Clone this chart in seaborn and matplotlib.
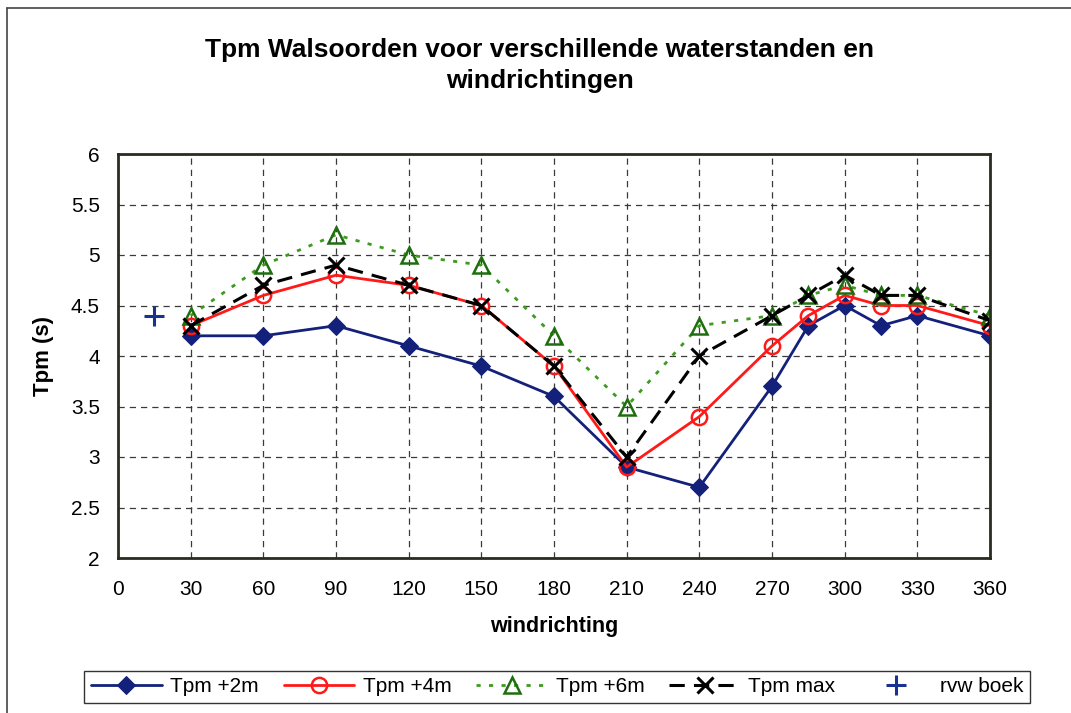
import numpy as np
import pandas as pd
import matplotlib
matplotlib.use("Agg")
import matplotlib.pyplot as plt
import seaborn as sns
from matplotlib.lines import Line2D

# data
windrichting = [30, 60, 90, 120, 150, 180, 210, 240, 270, 285, 300, 315, 330, 360]
tpm_2m = [4.2, 4.2, 4.3, 4.1, 3.9, 3.6, 2.9, 2.7, 3.7, 4.3, 4.5, 4.3, 4.4, 4.2]
tpm_4m = [4.3, 4.6, 4.8, 4.7, 4.5, 3.9, 2.9, 3.4, 4.1, 4.4, 4.6, 4.5, 4.5, 4.3]
tpm_6m = [4.4, 4.9, 5.2, 5.0, 4.9, 4.2, 3.5, 4.3, 4.4, 4.6, 4.7, 4.6, 4.6, 4.4]
tpm_max = [4.3, 4.7, 4.9, 4.7, 4.5, 3.9, 3.0, 4.0, 4.4, 4.6, 4.8, 4.6, 4.6, 4.35]
rvw_x = [15]
rvw_y = [4.4]

x_ticks = list(range(0, 361, 30))
y_ticks = [2, 2.5, 3, 3.5, 4, 4.5, 5, 5.5, 6]

sns.set_theme(style="white")
plt.rcParams['font.family'] = ['Liberation Sans', 'DejaVu Sans']
plt.rcParams['text.color'] = 'black'
plt.rcParams['axes.labelcolor'] = 'black'

df = pd.DataFrame({"windrichting": windrichting, "Tpm +2m": tpm_2m, "Tpm +4m": tpm_4m,
                   "Tpm +6m": tpm_6m, "Tpm max": tpm_max})
rvw = pd.DataFrame({"windrichting": rvw_x, "Tpm": rvw_y})

fig = plt.figure(figsize=(10.71, 7.13), dpi=100)
ax = fig.add_axes([118 / 1071, 1 - 558 / 713, (990 - 118) / 1071, (558 - 154) / 713])

navy = "#13217a"
red = "#ff1a1a"
green = "#1e6e10"
green_line = "#3f9b1e"

sns.lineplot(data=df, x="windrichting", y="Tpm +2m", ax=ax, color=navy, lw=2,
             marker="D", ms=9, mfc=navy, mec=navy, label="Tpm +2m")
sns.lineplot(data=df, x="windrichting", y="Tpm +4m", ax=ax, color=red, lw=2,
             marker="o", ms=11, mfc="none", mec=red, mew=1.8, label="Tpm +4m")
sns.lineplot(data=df, x="windrichting", y="Tpm +6m", ax=ax, color=green_line, lw=2,
             linestyle=(0, (1.5, 3)), marker="^", ms=11, mfc="none", mec=green, mew=1.8,
             label="Tpm +6m")
sns.lineplot(data=df, x="windrichting", y="Tpm max", ax=ax, color="black", lw=2.2,
             linestyle=(0, (5, 3)), marker="x", ms=12, mec="black", mew=2.2, label="Tpm max")
sns.scatterplot(data=rvw, x="windrichting", y="Tpm", ax=ax, color="#1a3190", marker="+",
                s=200, linewidth=2.2, label="rvw boek", zorder=5)

ax.set_xlim(0, 360)
ax.set_ylim(2, 6)
ax.set_xticks(x_ticks)
ax.set_yticks(y_ticks)
ax.set_yticklabels([f"{v:g}" for v in y_ticks])
ax.tick_params(axis="both", labelsize=15, colors="black", length=5, width=1, direction="out")
ax.tick_params(axis="x", pad=11)
ax.tick_params(axis="y", pad=8)
ax.grid(True, color="#3a3a3a", linestyle=(0, (5, 4)), linewidth=0.9)
for s in ax.spines.values():
    s.set_color("#2b2b20")
    s.set_linewidth(2)

ax.set_xlabel("windrichting", fontsize=15.5, fontweight="bold", labelpad=12)
ax.set_ylabel("Tpm (s)", fontsize=16, fontweight="bold", labelpad=12)

fig.text(0.504, 0.908, "Tpm Walsoorden voor verschillende waterstanden en\nwindrichtingen",
         ha="center", va="center", fontsize=19, fontweight="bold", linespacing=1.4)

handles, labels = ax.get_legend_handles_labels()
handles[-1] = Line2D([], [], color="#1a3190", marker="+", linestyle="none", ms=14, mew=2.2)
ax.get_legend().remove()
leg = fig.legend(handles, labels, loc="center", bbox_to_anchor=(557 / 1071, 1 - 687 / 713),
                 ncol=5, fontsize=15, frameon=True, fancybox=False, edgecolor="black",
                 handlelength=3.4, columnspacing=1.2, handletextpad=0.4, borderpad=0.3)
leg.get_frame().set_linewidth(1)

# outer chart frame
fig.add_artist(Line2D([7 / 1071, 7 / 1071], [0, 1 - 8 / 713], color="#444444", lw=1.2))
fig.add_artist(Line2D([7 / 1071, 1], [1 - 8 / 713, 1 - 8 / 713], color="#444444", lw=1.2))

fig.savefig("out.png", dpi=100)
